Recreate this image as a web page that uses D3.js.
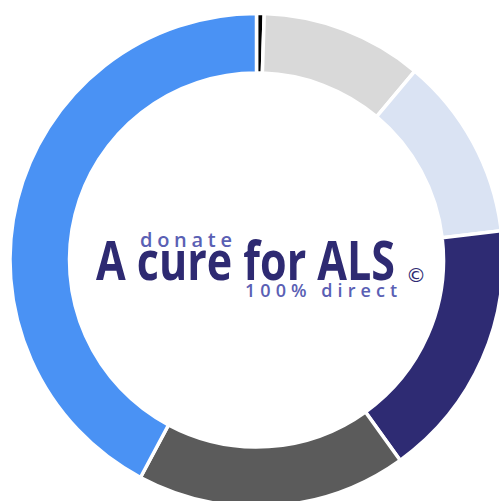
<!DOCTYPE html>
<html>
<head>
<meta charset="utf-8">
<script src="https://cdn.jsdelivr.net/npm/d3@7"></script>
<style>
  html, body { margin: 0; padding: 0; background: #fff; }
  svg { display: block; }
</style>
</head>
<body>
<svg id="chart" width="499" height="501"></svg>
<script>
const categories = ["Slice 1", "Slice 2", "Slice 3", "Slice 4", "Slice 5", "Slice 6"];
const values = [0.5, 10.6, 12.0, 17.0, 17.7, 42.2];
const colors = ["#000000", "#d9d9d9", "#dae3f3", "#2e2b73", "#5b5b5b", "#4a92f4"];

const svg = d3.select("#chart");
const cx = 256.5, cy = 260, outerR = 246.5, innerR = 187;

const data = categories.map((c, i) => ({ name: c, value: values[i], color: colors[i] }));
const pie = d3.pie().sort(null).value(d => d.value);
const arc = d3.arc().innerRadius(innerR).outerRadius(outerR);

const g = svg.append("g").attr("transform", `translate(${cx},${cy})`);
g.selectAll("path")
  .data(pie(data))
  .join("path")
  .attr("d", arc)
  .attr("fill", d => d.data.color)
  .attr("stroke", "#ffffff")
  .attr("stroke-width", 3.5);

// Center logo text
const logo = svg.append("g");
logo.append("text")
  .attr("x", 96).attr("y", 280)
  .attr("font-family", "'Liberation Sans Narrow', 'Open Sans', sans-serif")
  .attr("font-weight", "bold")
  .attr("font-size", 54)
  .attr("fill", "#2e2a72")
  .attr("textLength", 299)
  .attr("lengthAdjust", "spacingAndGlyphs")
  .text("A cure for ALS");
logo.append("text")
  .attr("x", 140).attr("y", 247)
  .attr("font-family", "'Open Sans', sans-serif")
  .attr("font-weight", 600)
  .attr("font-size", 20)
  .attr("fill", "#5a60b4")
  .attr("textLength", 92)
  .attr("lengthAdjust", "spacing")
  .text("donate");
logo.append("text")
  .attr("x", 245).attr("y", 297)
  .attr("font-family", "'Open Sans', sans-serif")
  .attr("font-weight", 600)
  .attr("font-size", 18)
  .attr("fill", "#5a60b4")
  .attr("textLength", 152)
  .attr("lengthAdjust", "spacing")
  .text("100% direct");
logo.append("text")
  .attr("x", 406).attr("y", 282)
  .attr("font-family", "'DejaVu Sans', sans-serif")
  .attr("font-size", 20)
  .attr("fill", "#2e2a72")
  .text("©");
</script>
</body>
</html>
